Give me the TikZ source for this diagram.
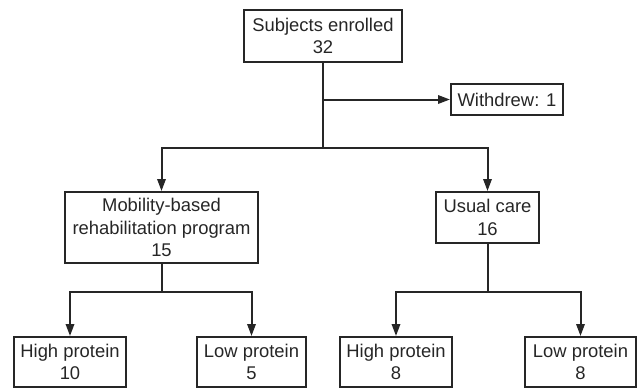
\documentclass[tikz,border=0pt]{standalone}
\usepackage{fontspec}
\setmainfont{Liberation Sans}
\usetikzlibrary{arrows.meta}
\begin{document}
\begin{tikzpicture}[x=0.5pt,y=-0.5pt,
  box/.style={draw=black!85, line width=1pt, align=center, inner sep=0pt,
    font=\fontsize{9.2pt}{11.3pt}\selectfont, text=black!85},
  arr/.style={draw=black!85, line width=1pt, -{Triangle[length=6pt,width=4.2pt]}},
  ln/.style={draw=black!85, line width=1pt}]
\useasboundingbox (0,0) rectangle (638,388);
\node[box, minimum width=79pt, minimum height=26pt] (top) at (323,36) {Subjects enrolled\\32};
\node[box, minimum width=56pt, minimum height=15.5pt] (wd) at (507,99.5) {Withdrew: 1};
\node[box, minimum width=96.5pt, minimum height=35.5pt] (mob) at (161.5,227.5) {Mobility-based\\rehabilitation program\\15};
\node[box, minimum width=51.5pt, minimum height=25.5pt] (usual) at (487.5,217.5) {Usual care\\16};
\node[box, minimum width=56pt, minimum height=25pt] (hp1) at (70,362) {High protein\\10};
\node[box, minimum width=54.5pt, minimum height=25pt] (lp1) at (251.5,362) {Low protein\\5};
\node[box, minimum width=56pt, minimum height=25pt] (hp2) at (396,362) {High protein\\8};
\node[box, minimum width=55.5pt, minimum height=25pt] (lp2) at (580.5,362) {Low protein\\8};
\coordinate (j0) at (323,148);
\coordinate (jw) at (323,99.5);
\coordinate (j1) at (161.5,292);
\coordinate (j2) at (487.5,292);
\draw[ln] (top.south) -- (j0);
\draw[arr] (jw) -- (wd.west);
\draw[arr] (j0) -| (mob.north);
\draw[arr] (j0) -| (usual.north);
\draw[ln] (mob.south) -- (j1);
\draw[arr] (j1) -| (hp1.north);
\draw[arr] (j1) -| (lp1.north);
\draw[ln] (usual.south) -- (j2);
\draw[arr] (j2) -| (hp2.north);
\draw[arr] (j2) -| (lp2.north);
\end{tikzpicture}
\end{document}
